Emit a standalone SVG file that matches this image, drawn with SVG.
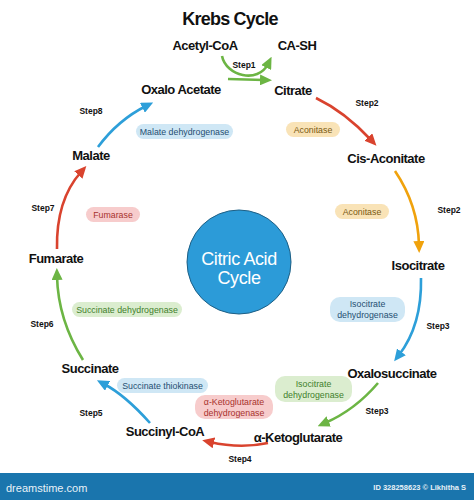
<svg xmlns="http://www.w3.org/2000/svg" width="474" height="500" viewBox="0 0 474 500">
<style>
.node{font-family:"Liberation Sans",Arial,sans-serif;font-weight:bold;font-size:13px;letter-spacing:-0.5px;fill:#111;text-anchor:middle}
.step{font-family:"Liberation Sans",Arial,sans-serif;font-weight:bold;font-size:8.5px;fill:#111;text-anchor:middle}
.enz{font-family:"Liberation Sans",Arial,sans-serif;font-size:8.8px;text-anchor:middle}
.arr{fill:none;stroke-width:2.6}
.r{stroke:#d9432e}.o{stroke:#f0a20c}.b{stroke:#2d9fd9}.g{stroke:#6cb544}
.pb{fill:#cfe7f5}.tb{fill:#1f4f72}
.py{fill:#f9e3b7}.ty{fill:#7a5a12}
.pp{fill:#f7cccc}.tp{fill:#a8322c}
.pg{fill:#dbedcf}.tg{fill:#3f7f2c}
</style>
<defs>
<marker id="mr" viewBox="0 0 12 11" refX="4" refY="5.5" markerWidth="12" markerHeight="11" markerUnits="userSpaceOnUse" orient="auto"><path d="M0,0 L12,5.5 L0,11 Z" fill="#d9432e"/></marker>
<marker id="mo" viewBox="0 0 12 11" refX="4" refY="5.5" markerWidth="12" markerHeight="11" markerUnits="userSpaceOnUse" orient="auto"><path d="M0,0 L12,5.5 L0,11 Z" fill="#f0a20c"/></marker>
<marker id="mb" viewBox="0 0 12 11" refX="4" refY="5.5" markerWidth="12" markerHeight="11" markerUnits="userSpaceOnUse" orient="auto"><path d="M0,0 L12,5.5 L0,11 Z" fill="#2d9fd9"/></marker>
<marker id="mg" viewBox="0 0 12 11" refX="4" refY="5.5" markerWidth="12" markerHeight="11" markerUnits="userSpaceOnUse" orient="auto"><path d="M0,0 L12,5.5 L0,11 Z" fill="#6cb544"/></marker>
</defs>
<rect width="474" height="500" fill="#fff"/>
<text x="230" y="25" font-family="Liberation Sans,Arial,sans-serif" font-weight="bold" font-size="18" letter-spacing="-0.8" text-anchor="middle" fill="#111">Krebs Cycle</text>

<g id="connectors">
<path class="arr g" d="M222,56 C226,76 258,84 268,64" marker-end="url(#mg)"/>
<path class="arr g" d="M228,79 L264,80" marker-end="url(#mg)"/>
<path class="arr r" d="M316,98 Q345,112 371,140" marker-end="url(#mr)"/>
<path class="arr o" d="M395,171 Q418,205 419,245" marker-end="url(#mo)"/>
<path class="arr b" d="M421,278 Q422,325 399,355" marker-end="url(#mb)"/>
<path class="arr g" d="M378,383 Q355,410 325,423" marker-end="url(#mg)"/>
<path class="arr r" d="M268,443 Q240,449 210,442" marker-end="url(#mr)"/>
<path class="arr b" d="M150,423 Q125,395 104,384" marker-end="url(#mb)"/>
<path class="arr g" d="M83,360 Q58,320 57,276" marker-end="url(#mg)"/>
<path class="arr r" d="M57,249 Q56,200 81,172" marker-end="url(#mr)"/>
<path class="arr b" d="M98,147 Q118,120 146,106" marker-end="url(#mb)"/>
</g>

<g id="steps">
<text class="step" x="244" y="68">Step1</text>
<text class="step" x="367" y="106">Step2</text>
<text class="step" x="449" y="213">Step2</text>
<text class="step" x="438" y="329">Step3</text>
<text class="step" x="377" y="414">Step3</text>
<text class="step" x="240" y="462">Step4</text>
<text class="step" x="91" y="416">Step5</text>
<text class="step" x="42" y="327">Step6</text>
<text class="step" x="43" y="211">Step7</text>
<text class="step" x="91" y="114">Step8</text>
</g>

<g id="enzymes">
<rect class="pb" x="136" y="124" width="97" height="15" rx="7.5"/><text class="enz tb" x="184.5" y="134.5">Malate dehydrogenase</text>
<rect class="py" x="286" y="122" width="54" height="15" rx="7.5"/><text class="enz ty" x="313" y="132.5">Aconitase</text>
<rect class="py" x="335" y="204" width="54" height="15" rx="7.5"/><text class="enz ty" x="362" y="214.5">Aconitase</text>
<rect class="pp" x="86" y="207" width="54" height="15" rx="7.5"/><text class="enz tp" x="113" y="217.5">Fumarase</text>
<rect class="pg" x="72" y="302" width="110" height="15" rx="7.5"/><text class="enz tg" x="127" y="312.5">Succinate dehydrogenase</text>
<rect class="pb" x="117" y="378" width="91" height="15" rx="7.5"/><text class="enz tb" x="162.5" y="388.5">Succinate thiokinase</text>
<rect class="pp" x="195" y="395" width="78" height="24" rx="10"/><text class="enz tp" x="234" y="405">α-Ketoglutarate</text><text class="enz tp" x="234" y="415.5">dehydrogenase</text>
<rect class="pb" x="330" y="297" width="75" height="25" rx="10"/><text class="enz tb" x="367.5" y="307">Isocitrate</text><text class="enz tb" x="367.5" y="318">dehydrogenase</text>
<rect class="pg" x="275" y="376" width="77" height="26" rx="10"/><text class="enz tg" x="313.5" y="386.5">Isocitrate</text><text class="enz tg" x="313.5" y="397.5">dehydrogenase</text>
</g>

<g id="center">
<circle cx="239" cy="262" r="52" fill="#2c9bd8" stroke="#1d5f85" stroke-width="1"/>
<text x="239" y="265" font-family="Liberation Sans,Arial,sans-serif" font-size="18" letter-spacing="-0.4" text-anchor="middle" fill="#fff">Citric Acid</text>
<text x="239" y="284" font-family="Liberation Sans,Arial,sans-serif" font-size="18" letter-spacing="-0.4" text-anchor="middle" fill="#fff">Cycle</text>
</g>

<g id="n-acetylcoa"><text class="node" x="205" y="50">Acetyl-CoA</text></g>
<g id="n-cash"><text class="node" x="297" y="50">CA-SH</text></g>
<g id="n-citrate"><text class="node" x="293" y="95">Citrate</text></g>
<g id="n-oxaloacetate"><text class="node" x="181" y="94">Oxalo Acetate</text></g>
<g id="n-cisaconitate"><text class="node" x="386" y="163">Cis-Aconitate</text></g>
<g id="n-isocitrate"><text class="node" x="418" y="270">Isocitrate</text></g>
<g id="n-oxalosuccinate"><text class="node" x="392" y="378">Oxalosuccinate</text></g>
<g id="n-aketoglutarate"><text class="node" x="298" y="442">α-Ketoglutarate</text></g>
<g id="n-succinylcoa"><text class="node" x="165" y="436">Succinyl-CoA</text></g>
<g id="n-succinate"><text class="node" x="90" y="373">Succinate</text></g>
<g id="n-fumarate"><text class="node" x="56" y="263">Fumarate</text></g>
<g id="n-malate"><text class="node" x="91" y="160">Malate</text></g>

<g id="banner">
<rect x="0" y="473" width="474" height="27" fill="#1a75ad"/>
<text x="6" y="492" font-family="Liberation Sans,Arial,sans-serif" font-size="11" fill="#e8f2f8">dreamstime.com</text>
<text x="466" y="490" font-family="Liberation Sans,Arial,sans-serif" font-weight="bold" font-size="7.5" text-anchor="end" fill="#e8f2f8">ID 328258623 © Likhitha S</text>
</g>
</svg>
